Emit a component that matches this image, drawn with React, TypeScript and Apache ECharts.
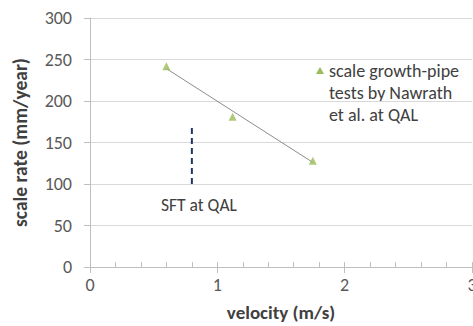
import React, { useEffect, useRef } from "react";
import * as echarts from "echarts";

const velocity = [0.6, 1.12, 1.75];
const scaleRate = [242, 181, 128];
const trendX = [0.6, 1.75];
const trendY = [239, 126];
const sftX = [0.8, 0.8];
const sftY = [100, 170];
const yTicks = [0, 50, 100, 150, 200, 250, 300];
const xTicks = [0, 1, 2, 3];
const legendLines = ["scale growth-pipe", "tests by Nawrath", "et al. at QAL"];
const sftLabel = "SFT at QAL";

const FONT = "Carlito, Lato, 'Open Sans', sans-serif";

export default function App() {
  const ref = useRef<HTMLDivElement>(null);
  useEffect(() => {
    if (!ref.current) return;
    const chart = echarts.init(ref.current, null, { renderer: "svg" });
    chart.setOption({
      animation: false,
      backgroundColor: "#ffffff",
      grid: { left: 90, top: 18, right: 1, bottom: 59, containLabel: false, outerBoundsMode: "none" },
      xAxis: [
        {
          type: "value",
          min: xTicks[0],
          max: xTicks[xTicks.length - 1],
          interval: 1,
          name: "velocity (m/s)",
          nameLocation: "middle",
          nameGap: 36,
          nameTextStyle: { fontFamily: FONT, fontSize: 19, fontWeight: "bold", color: "#404040" },
          axisLine: { show: true, lineStyle: { color: "#BFBFBF", width: 1 } },
          axisTick: { show: true, inside: false, length: 6, lineStyle: { color: "#BFBFBF" } },
          axisLabel: { fontFamily: FONT, fontSize: 18, color: "#595959", margin: 9 },
          splitLine: { show: false },
        },
        {
          type: "value",
          min: xTicks[0],
          max: xTicks[xTicks.length - 1],
          interval: 0.2,
          position: "bottom",
          axisLine: { show: false },
          axisTick: { show: true, inside: true, length: 5, lineStyle: { color: "#BFBFBF" } },
          axisLabel: { show: false },
          splitLine: { show: false },
        },
      ],
      yAxis: {
        type: "value",
        min: yTicks[0],
        max: yTicks[yTicks.length - 1],
        interval: 50,
        name: "scale rate (mm/year)",
        nameLocation: "middle",
        nameGap: 60,
        nameTextStyle: { fontFamily: FONT, fontSize: 19.5, fontWeight: "bold", color: "#404040" },
        axisLine: { show: true, lineStyle: { color: "#BFBFBF", width: 1 } },
        axisTick: { show: true, inside: false, length: 6, lineStyle: { color: "#BFBFBF" } },
        axisLabel: { fontFamily: FONT, fontSize: 18, color: "#595959", margin: 18 },
        splitLine: { show: true, lineStyle: { color: "#D9D9D9", width: 1 } },
      },
      series: [
        {
          type: "line",
          data: trendX.map((x, i) => [x, trendY[i]]),
          symbol: "none",
          lineStyle: { color: "#8C8C8C", width: 1 },
          z: 2,
        },
        {
          type: "scatter",
          data: velocity.map((x, i) => [x, scaleRate[i]]),
          symbol: "triangle",
          symbolSize: 8,
          itemStyle: { color: "#9BBB59" },
          z: 3,
        },
        {
          type: "line",
          data: sftX.map((x, i) => [x, sftY[i]]),
          symbol: "none",
          lineStyle: { color: "#1F3864", width: 2, type: [6, 4] },
          z: 2,
        },
      ],
      graphic: [
        {
          type: "polygon",
          shape: { points: [[320, 67], [324, 74], [316, 74]] },
          style: { fill: "#9BBB59" },
        },
        {
          type: "text",
          left: 329,
          top: 60,
          style: {
            text: legendLines.join("\n"),
            fontFamily: FONT,
            fontSize: 18,
            lineHeight: 22,
            fill: "#404040",
          },
        },
        {
          type: "text",
          left: 161,
          top: 196,
          style: {
            text: sftLabel,
            fontFamily: FONT,
            fontSize: 17.5,
            fill: "#404040",
          },
        },
      ],
    });
    return () => chart.dispose();
  }, []);
  return <div ref={ref} style={{ width: 473, height: 326, position: "fixed", left: 0, top: 0 }} />;
}
